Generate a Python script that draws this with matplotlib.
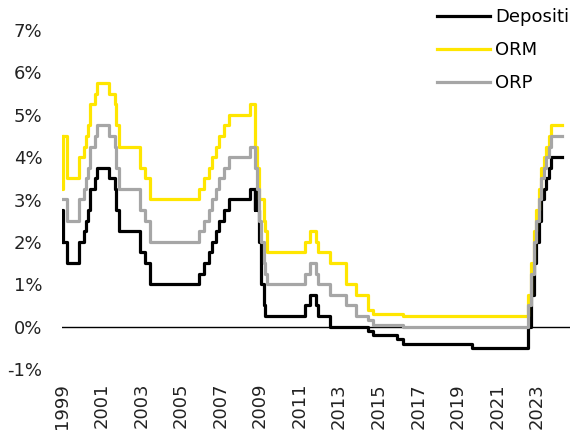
import matplotlib
matplotlib.use("Agg")
import matplotlib.pyplot as plt
import matplotlib.dates as mdates
from datetime import datetime

# ECB policy rate change dates and levels (%)
dates = [
    "1999-01-01", "1999-01-04", "1999-01-22", "1999-04-09", "1999-11-05",
    "2000-02-04", "2000-03-17", "2000-04-28", "2000-06-09", "2000-09-01",
    "2000-10-06", "2001-05-11", "2001-08-31", "2001-09-18", "2001-11-09",
    "2002-12-06", "2003-03-07", "2003-06-06", "2005-12-06", "2006-03-08",
    "2006-06-15", "2006-08-09", "2006-10-11", "2006-12-13", "2007-03-14",
    "2007-06-13", "2008-07-09", "2008-10-08", "2008-10-09", "2008-10-15",
    "2008-11-12", "2008-12-10", "2009-01-21", "2009-03-11", "2009-04-08",
    "2009-05-13", "2011-04-13", "2011-07-13", "2011-11-09", "2011-12-14",
    "2012-07-11", "2013-05-08", "2013-11-13", "2014-06-11", "2014-09-10",
    "2015-12-09", "2016-03-16", "2019-09-18", "2022-07-27", "2022-09-14",
    "2022-11-02", "2022-12-21", "2023-02-08", "2023-03-22", "2023-05-10",
    "2023-06-21", "2023-08-02", "2023-09-20", "2024-03-31",
]
depositi = [
    2.00, 2.75, 2.00, 1.50, 2.00,
    2.25, 2.50, 2.75, 3.25, 3.50,
    3.75, 3.50, 3.25, 2.75, 2.25,
    1.75, 1.50, 1.00, 1.25, 1.50,
    1.75, 2.00, 2.25, 2.50, 2.75,
    3.00, 3.25, 2.75, 3.25, 3.25,
    2.75, 2.00, 1.00, 0.50, 0.25,
    0.25, 0.50, 0.75, 0.50, 0.25,
    0.00, 0.00, 0.00, -0.10, -0.20,
    -0.30, -0.40, -0.50, 0.00, 0.75,
    1.50, 2.00, 2.50, 3.00, 3.25,
    3.50, 3.75, 4.00, 4.00,
]
orm = [
    4.50, 3.25, 4.50, 3.50, 4.00,
    4.25, 4.50, 4.75, 5.25, 5.50,
    5.75, 5.50, 5.25, 4.75, 4.25,
    3.75, 3.50, 3.00, 3.25, 3.50,
    3.75, 4.00, 4.25, 4.50, 4.75,
    5.00, 5.25, 4.75, 4.25, 4.25,
    3.75, 3.00, 3.00, 2.50, 2.25,
    1.75, 2.00, 2.25, 2.00, 1.75,
    1.50, 1.00, 0.75, 0.40, 0.30,
    0.30, 0.25, 0.25, 0.75, 1.50,
    2.25, 2.75, 3.25, 3.75, 4.00,
    4.25, 4.50, 4.75, 4.75,
]
orp = [
    3.00, 3.00, 3.00, 2.50, 3.00,
    3.25, 3.50, 3.75, 4.25, 4.50,
    4.75, 4.50, 4.25, 3.75, 3.25,
    2.75, 2.50, 2.00, 2.25, 2.50,
    2.75, 3.00, 3.25, 3.50, 3.75,
    4.00, 4.25, 4.25, 3.75, 3.75,
    3.25, 2.50, 2.00, 1.50, 1.25,
    1.00, 1.25, 1.50, 1.25, 1.00,
    0.75, 0.50, 0.25, 0.15, 0.05,
    0.05, 0.00, 0.00, 0.50, 1.25,
    2.00, 2.50, 3.00, 3.50, 3.75,
    4.00, 4.25, 4.50, 4.50,
]
year_ticks = list(range(1999, 2024, 2))
y_ticks = list(range(-1, 8))

x = [datetime.strptime(d, "%Y-%m-%d") for d in dates]

fig = plt.figure(figsize=(5.72, 4.36), dpi=100)
ax = fig.add_axes([62 / 572, 67 / 436, 508 / 572, 339 / 436])

lw = 2.3
ax.plot(x, depositi, drawstyle="steps-post", color="#000000", lw=lw, label="Depositi")
ax.plot(x, orm, drawstyle="steps-post", color="#FFE600", lw=lw, label="ORM")
ax.plot(x, orp, drawstyle="steps-post", color="#A6A6A6", lw=lw, label="ORP")
ax.axhline(0, color="black", lw=1.0, zorder=0)

ax.set_xlim(datetime(1999, 1, 1), datetime(2024, 9, 1))
ax.set_ylim(-1, 7)
ax.set_xticks([datetime(y, 1, 1) for y in year_ticks])
ax.set_xticklabels([str(y) for y in year_ticks], rotation=90, fontsize=13)
ax.set_yticks(y_ticks)
ax.set_yticklabels([f"{v}%" for v in y_ticks], fontsize=13)
ax.tick_params(axis="both", length=0, colors="#222222")
ax.tick_params(axis="y", pad=14)
ax.tick_params(axis="x", pad=10)
for s in ax.spines.values():
    s.set_visible(False)

fig.legend(loc="upper left", bbox_to_anchor=(437 / 572, 1 - 8 / 436),
           frameon=False, fontsize=13, handlelength=2.93, handletextpad=0.28,
           labelspacing=0.84, borderpad=0, borderaxespad=0)

fig.savefig("out.png", dpi=100)
